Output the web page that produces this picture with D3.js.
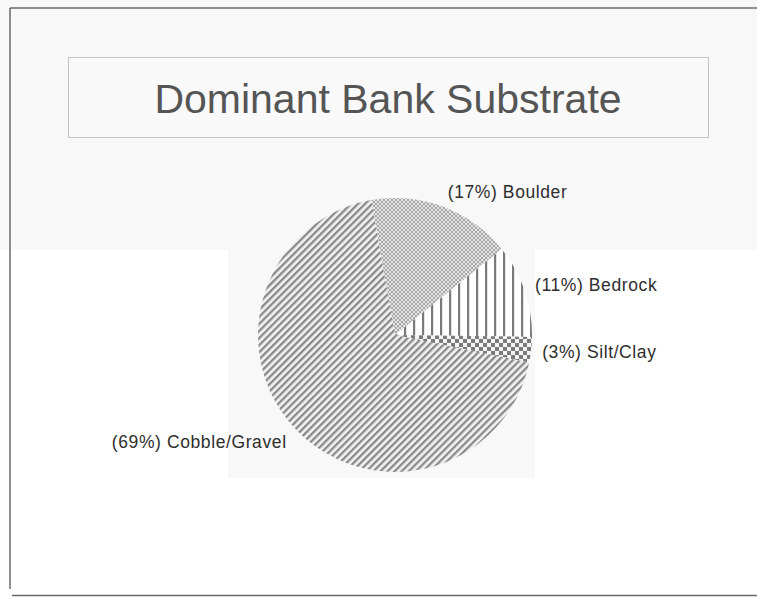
<!DOCTYPE html>
<html>
<head>
<meta charset="utf-8">
<script src="https://cdn.jsdelivr.net/npm/d3@7"></script>
<style>
  html, body { margin: 0; padding: 0; background: #ffffff; }
  svg { display: block; }
  text { font-family: "Liberation Sans", Arial, sans-serif; }
</style>
</head>
<body>
<script>
// Dominant bank substrate shares (percent of surveyed banks)
const categories = ["Boulder", "Bedrock", "Silt/Clay", "Cobble/Gravel"];
const shares = [17, 11, 3, 69];
const patternIds = ["pat-boulder", "pat-bedrock", "pat-silt", "pat-cobble"];
const chartTitle = "Dominant Bank Substrate";

const W = 757, H = 597;
const cx = 395, cy = 335, R = 137;

const svg = d3.select("body").append("svg")
  .attr("width", W).attr("height", H);

// faint paper tone behind title band and plot
svg.append("rect").attr("x", 0).attr("y", 0).attr("width", W).attr("height", 250)
  .attr("fill", "#f8f8f8");
svg.append("rect").attr("x", 228).attr("y", 250).attr("width", 307).attr("height", 228)
  .attr("fill", "#f8f8f8");

// fill patterns for the slices
const defs = svg.append("defs");

// Boulder: fine dotted checker
const pb = defs.append("pattern").attr("id", "pat-boulder")
  .attr("patternUnits", "userSpaceOnUse").attr("width", 4).attr("height", 4);
pb.append("rect").attr("width", 4).attr("height", 4).attr("fill", "#e6e6e6");
pb.append("rect").attr("x", 0).attr("y", 0).attr("width", 2).attr("height", 2).attr("fill", "#a6a6a6");
pb.append("rect").attr("x", 2).attr("y", 2).attr("width", 2).attr("height", 2).attr("fill", "#a6a6a6");

// Bedrock: vertical lines
const pv = defs.append("pattern").attr("id", "pat-bedrock")
  .attr("patternUnits", "userSpaceOnUse").attr("width", 9).attr("height", 9);
pv.append("rect").attr("width", 9).attr("height", 9).attr("fill", "#ffffff");
pv.append("rect").attr("x", 0).attr("y", 0).attr("width", 2.2).attr("height", 9).attr("fill", "#7a7a7a");

// Silt/Clay: coarse checker
const ps = defs.append("pattern").attr("id", "pat-silt")
  .attr("patternUnits", "userSpaceOnUse").attr("width", 8).attr("height", 8);
ps.append("rect").attr("width", 8).attr("height", 8).attr("fill", "#f4f4f4");
ps.append("rect").attr("x", 0).attr("y", 0).attr("width", 4).attr("height", 4).attr("fill", "#7a7a7a");
ps.append("rect").attr("x", 4).attr("y", 4).attr("width", 4).attr("height", 4).attr("fill", "#7a7a7a");

// Cobble/Gravel: forward diagonal stripes
const pc = defs.append("pattern").attr("id", "pat-cobble")
  .attr("patternUnits", "userSpaceOnUse").attr("width", 5).attr("height", 5)
  .attr("patternTransform", "rotate(45)");
pc.append("rect").attr("width", 5).attr("height", 5).attr("fill", "#f2f2f2");
pc.append("rect").attr("x", 0).attr("y", 0).attr("width", 2.3).attr("height", 5).attr("fill", "#8a8a8a");

// outer frame
const frame = svg.append("g").attr("stroke", "#6a6a6a").attr("stroke-width", 1.5).attr("fill", "none");
frame.append("line").attr("x1", 10).attr("y1", 8).attr("x2", W).attr("y2", 8);
frame.append("line").attr("x1", 10).attr("y1", 8).attr("x2", 10).attr("y2", 589);
frame.append("line").attr("x1", 12).attr("y1", 595.5).attr("x2", W).attr("y2", 595.5);

// title box
svg.append("rect").attr("x", 68.5).attr("y", 57.5).attr("width", 640).attr("height", 80)
  .attr("fill", "#f9f9f9").attr("stroke", "#c4c4c4").attr("stroke-width", 1);
svg.append("text").attr("x", 388).attr("y", 113)
  .attr("text-anchor", "middle").attr("font-size", 41).attr("fill", "#555555")
  .text(chartTitle);

// pie
const data = categories.map((c, i) => ({ cat: c, value: shares[i], pat: patternIds[i] }));
const startRad = -10 * Math.PI / 180;
const pie = d3.pie().sort(null).value(d => d.value)
  .startAngle(startRad).endAngle(startRad + 2 * Math.PI);
const arcs = pie(data);
const arc = d3.arc().innerRadius(0).outerRadius(R);
const labelArc = d3.arc().innerRadius(R + 10).outerRadius(R + 10);

const g = svg.append("g").attr("transform", `translate(${cx},${cy})`);
g.selectAll("path.slice").data(arcs).join("path")
  .attr("class", "slice")
  .attr("d", arc)
  .attr("fill", d => `url(#${d.data.pat})`);

// outside labels
g.selectAll("text.lbl").data(arcs).join("text")
  .attr("class", "lbl")
  .each(function (d) {
    const mid = (d.startAngle + d.endAngle) / 2;
    const [x, y] = labelArc.centroid(d);
    const s = d3.select(this);
    s.attr("x", Math.sin(mid) >= 0 ? x + 1 : x - 3)
     .attr("y", y + 6 * (1 - Math.cos(mid)))
     .attr("text-anchor", Math.sin(mid) >= 0 ? "start" : "end");
  })
  .attr("font-size", 17.5)
  .attr("letter-spacing", 0.6)
  .attr("fill", "#2e2e2e")
  .text(d => `(${d.data.value}%) ${d.data.cat}`);
</script>
</body>
</html>
